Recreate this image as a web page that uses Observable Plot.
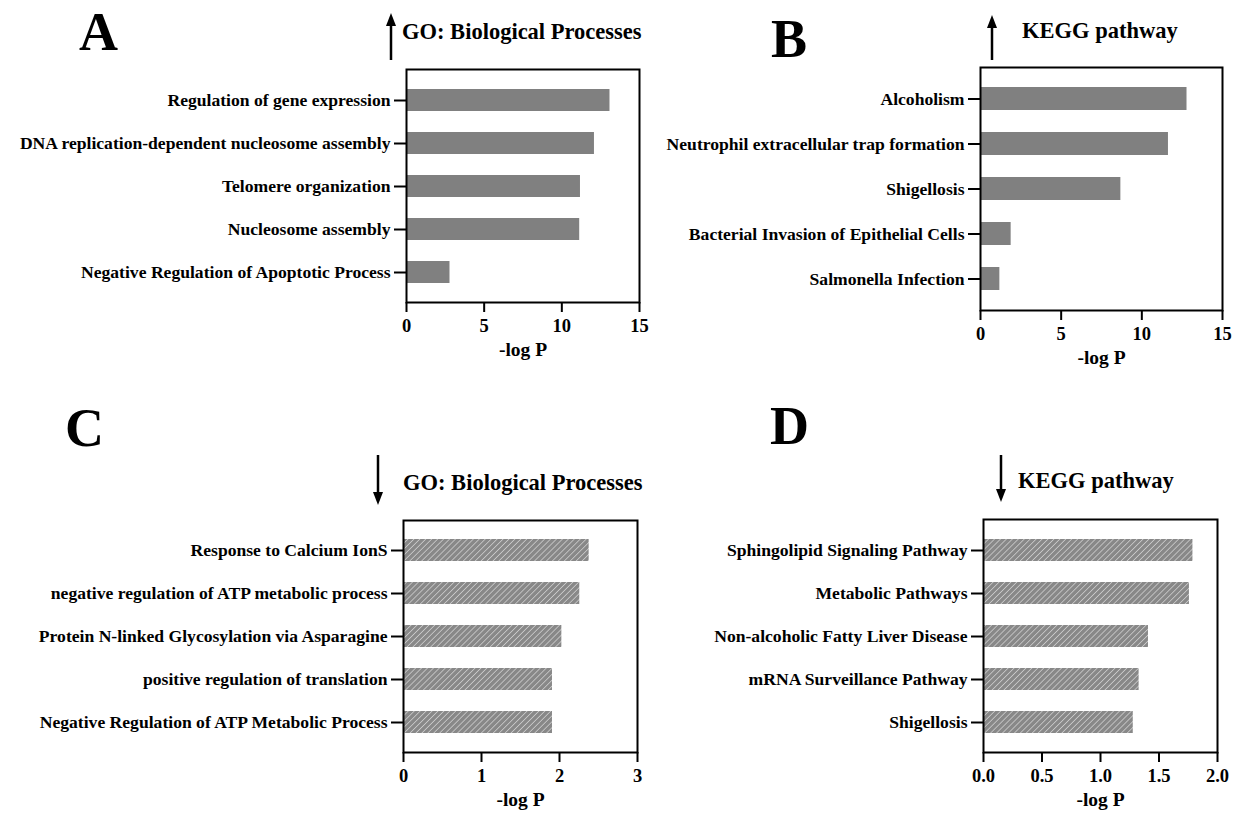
<!DOCTYPE html>
<html><head><meta charset="utf-8">
<script src="https://cdn.jsdelivr.net/npm/d3@7"></script>
<script src="https://cdn.jsdelivr.net/npm/@observablehq/plot@0.6"></script>
<style>
body{margin:0;background:#fff;}
#wrap{position:relative;width:1233px;height:815px;overflow:hidden;}
.panel{position:absolute;}
#overlay{position:absolute;left:0;top:0;pointer-events:none;}
</style></head><body>
<svg width="0" height="0" style="position:absolute">
<defs>
<pattern id="hatch" patternUnits="userSpaceOnUse" width="4.2" height="4.2" patternTransform="rotate(45)">
<rect width="4.2" height="4.2" fill="#888888"/>
<line x1="0" y1="0" x2="0" y2="4.2" stroke="#e2e2e2" stroke-width="1.2"/>
</pattern>
</defs>
</svg>
<div id="wrap"></div>
<script>
// ---- data ----
const catA = ["Regulation of gene expression","DNA replication-dependent nucleosome assembly","Telomere organization","Nucleosome assembly","Negative Regulation of Apoptotic Process"];
const valA = [13.1, 12.1, 11.2, 11.15, 2.8];
const catB = ["Alcoholism","Neutrophil extracellular trap formation","Shigellosis","Bacterial Invasion of Epithelial Cells","Salmonella Infection"];
const valB = [12.8, 11.65, 8.7, 1.9, 1.2];
const catC = ["Response to Calcium IonS","negative regulation of ATP metabolic process","Protein N-linked Glycosylation via Asparagine","positive regulation of translation","Negative Regulation of ATP Metabolic Process"];
const valC = [2.38, 2.26, 2.03, 1.91, 1.91];
const catD = ["Sphingolipid Signaling Pathway","Metabolic Pathways","Non-alcoholic Fatty Liver Disease","mRNA Surveillance Pathway","Shigellosis"];
const valD = [1.79, 1.76, 1.41, 1.33, 1.28];
const ticksAB = [0, 5, 10, 15];
const ticksC = [0, 1, 2, 3];
const ticksD = [0, 0.5, 1.0, 1.5, 2.0];
const panelLetters = ["A", "B", "C", "D"];
const panelTitles = ["GO: Biological Processes", "KEGG pathway", "GO: Biological Processes", "KEGG pathway"];
const xLabel = "-log P";

const FONT = "'Liberation Serif', 'Times New Roman', serif";
const wrap = document.getElementById("wrap");

function panel({cats, vals, ticks, fmt, fill, left, top, width, height, mt, mr, mb, ml, po}) {
  const data = cats.map((c, i) => ({c, v: vals[i]}));
  const chart = Plot.plot({
    width, height,
    marginTop: mt, marginRight: mr, marginBottom: mb, marginLeft: ml,
    style: {fontFamily: FONT, fontWeight: "bold", color: "#000", background: "transparent", overflow: "visible"},
    x: {domain: [ticks[0], ticks[ticks.length - 1]]},
    y: {domain: cats, paddingInner: 0.5, paddingOuter: po},
    marks: [
      Plot.barX(data, {x: "v", y: "c", fill}),
      Plot.frame({stroke: "#000", strokeWidth: 2}),
      Plot.axisY({tickSize: 12, tickPadding: 4, fontSize: 17.6, strokeWidth: 2, label: null}),
      Plot.axisX({ticks, tickFormat: fmt, tickSize: 10, tickPadding: 6, fontSize: 18.5, strokeWidth: 2, label: null}),
      Plot.text([xLabel], {frameAnchor: "bottom", dy: 53, fontSize: 19.5})
    ]
  });
  chart.classList.add("panel");
  chart.style.left = left + "px";
  chart.style.top = top + "px";
  wrap.appendChild(chart);
}

panel({cats: catA, vals: valA, ticks: ticksAB, fmt: d3.format("d"), fill: "#808080",
  left: 0, top: 0, width: 660, height: 380, mt: 69, mr: 21, mb: 78, ml: 406, po: 0.4});
panel({cats: catB, vals: valB, ticks: ticksAB, fmt: d3.format("d"), fill: "#808080",
  left: 640, top: 0, width: 593, height: 380, mt: 67, mr: 11, mb: 70, ml: 340, po: 0.43});
panel({cats: catC, vals: valC, ticks: ticksC, fmt: d3.format("d"), fill: "url(#hatch)",
  left: 0, top: 400, width: 660, height: 415, mt: 120, mr: 23, mb: 63, ml: 403, po: 0.4});
panel({cats: catD, vals: valD, ticks: ticksD, fmt: d3.format(".1f"), fill: "url(#hatch)",
  left: 640, top: 400, width: 593, height: 415, mt: 119, mr: 16, mb: 63, ml: 343, po: 0.4});

// ---- overlay: panel letters, arrows, titles ----
const ov = d3.select(wrap).append("svg").attr("id", "overlay").attr("width", 1233).attr("height", 815)
  .style("font-family", FONT).style("font-weight", "bold");
const letterPos = [[79, 50], [771, 57], [65, 446], [770, 444]];
const titlePos = [[402, 39], [1022, 38], [403, 490], [1018, 488]];
const arrowPos = [[391, 13, 60, "up"], [992, 15, 60, "up"], [378, 505, 455, "down"], [1001, 502, 455, "down"]];
panelLetters.forEach((L, i) => {
  ov.append("text").attr("x", letterPos[i][0]).attr("y", letterPos[i][1]).attr("font-size", 54).text(L);
  ov.append("text").attr("x", titlePos[i][0]).attr("y", titlePos[i][1]).attr("font-size", 22.5).text(panelTitles[i]);
  const [x, tip, tail, dir] = arrowPos[i];
  const s = dir === "up" ? 1 : -1;
  ov.append("line").attr("x1", x).attr("x2", x).attr("y1", tip + s * 10).attr("y2", tail)
    .attr("stroke", "#000").attr("stroke-width", 2.5);
  ov.append("path").attr("d", `M${x},${tip} L${x - 5},${tip + s * 13} L${x + 5},${tip + s * 13} Z`).attr("fill", "#000");
});
</script>
</body></html>
